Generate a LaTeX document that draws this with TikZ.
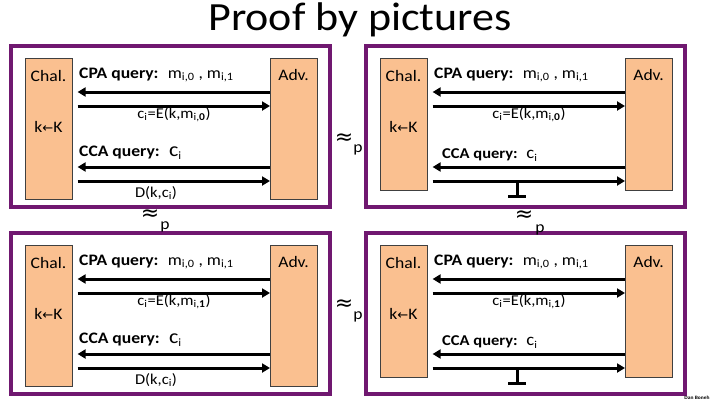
\documentclass[tikz,border=0pt]{standalone}
\usepackage{fontspec}
\setmainfont{Carlito}[FakeStretch=1.1]
\newfontfamily\symfont{DejaVu Sans}
\usepackage{tikz}
\usepackage{xcolor}
\usetikzlibrary{arrows.meta}
\definecolor{gamepurple}{RGB}{112,24,112}
\definecolor{partypeach}{RGB}{250,192,144}

\begin{document}
\begin{tikzpicture}[x=1pt,y=-1pt,>={Triangle[length=8pt,width=9pt]},
  gameframe/.style={draw=gamepurple,line width=4pt},
  party/.style={draw=black!75,fill=partypeach,line width=0.6pt,minimum width=47pt,inner sep=0pt,anchor=north west},
  msg/.style={line width=3pt},
  txt/.style={inner sep=0pt,font=\fontsize{16}{17}\selectfont},
  small/.style={inner sep=0pt,font=\fontsize{15}{16}\selectfont},
  approx/.style={inner sep=0pt,font=\fontsize{22}{22}\symfont}]
  \useasboundingbox (0,0) rectangle (720,405);
  \node[font=\fontsize{40}{42}\selectfont] (title) at (360,20) {Proof by pictures};
  % the four games
  \foreach \px/\py/\nm/\b/\h in {0/0/a/0/141, 355/0/b/0/132, 0/187/c/1/141, 355/187/d/1/132}{
    \begin{scope}[shift={(\px,\py)}]
      \draw[gameframe] (11,46) rectangle (330,207);
      \node[party,minimum height=\h pt] (\nm-chal) at (25,58) {};
      \node[party,minimum height=\h pt] (\nm-adv) at (270,58) {};
      \node[txt] (\nm-chal-lbl) at (48.5,76) {Chal.};
      \node[txt] (\nm-adv-lbl) at (293.5,75) {Adv.};
      \node[txt] (\nm-key) at (48.5,127) {k{\symfont\fontsize{13}{14}\selectfont ←}K};
      \node[txt,anchor=west] (\nm-cpa) at (79,75) {\textbf{CPA query:}~ m\textsubscript{i,0} , m\textsubscript{i,1}};
      \node[small] (\nm-enc) at (174,115) {c\textsubscript{i}=E(k,m\textsubscript{i,\textbf{\b}})};
      \draw[msg,->,shorten >=5pt] (\nm-adv.west |- 0,92) -- (\nm-chal.east |- 0,92);
      \draw[msg,->,shorten <=5pt] (\nm-chal.east |- 0,106) -- (\nm-adv.west |- 0,106);
      \draw[msg,->,shorten >=5pt] (\nm-adv.west |- 0,167) -- (\nm-chal.east |- 0,167);
      \draw[msg,->,shorten <=5pt] (\nm-chal.east |- 0,181) -- (\nm-adv.west |- 0,181);
    \end{scope}}
  % decryption allowed on the left
  \foreach \py/\nm in {0/a, 187/c}{
    \begin{scope}[shift={(0,\py)}]
      \node[txt,anchor=west] (\nm-cca) at (79,153) {\textbf{CCA query:}~ {\fontsize{20}{20}\selectfont c}\textsubscript{i}};
      \node[small] (\nm-dec) at (156,193) {D(k,c\textsubscript{i})};
    \end{scope}}
  % bottom answer on the right
  \foreach \py/\nm in {0/b, 187/d}{
    \begin{scope}[shift={(355,\py)}]
      \node[small,anchor=west] (\nm-cca) at (87,155) {\textbf{CCA query:}~ {\fontsize{17}{17}\selectfont c}\textsubscript{i}};
      \draw[msg] (162,181) -- (162,196) (153,196) -- (171,196);
    \end{scope}}
  \node[approx] (ab) at (344,139) {≈};
  \node[txt] (ab-p) at (358,150) {p};
  \node[approx] (ac) at (150,215) {≈};
  \node[txt] (ac-p) at (165,227) {p};
  \node[approx] (bd) at (524,216) {≈};
  \node[txt] (bd-p) at (540,230) {p};
  \node[approx] (cd) at (344,305) {≈};
  \node[txt] (cd-p) at (358,317) {p};
  \node[inner sep=0pt,font=\fontsize{5}{6}\selectfont\bfseries] (author) at (697,398) {Dan Boneh};
\end{tikzpicture}
\end{document}
